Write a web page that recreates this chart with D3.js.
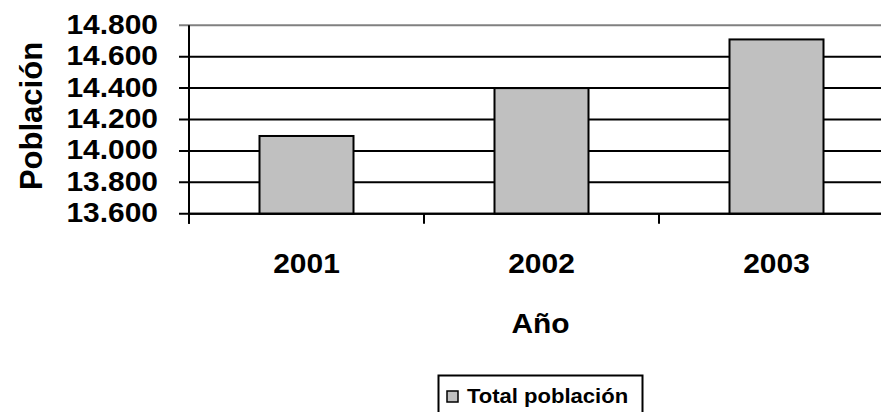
<!DOCTYPE html>
<html>
<head>
<meta charset="utf-8">
<script src="https://cdn.jsdelivr.net/npm/d3@7"></script>
<style>
  html, body { margin: 0; padding: 0; background: #fff; overflow: hidden; }
  svg { display: block; }
  text { font-family: "Liberation Sans", Arial, sans-serif; font-weight: bold; fill: #000; }
</style>
</head>
<body>
<svg id="chart" width="881" height="412"></svg>
<script>
const categories = ["2001", "2002", "2003"];
const values = [14095, 14400, 14710];
const yTicks = [13600, 13800, 14000, 14200, 14400, 14600, 14800];
const yTickLabels = ["13.600", "13.800", "14.000", "14.200", "14.400", "14.600", "14.800"];
const seriesName = "Total población";
const xTitle = "Año";
const yTitle = "Población";

const svg = d3.select("#chart");
const plotLeft = 189, plotRight = 894, plotTop = 25.3, plotBottom = 213.7;

const x = d3.scaleBand().domain(categories).range([plotLeft, plotRight]).paddingInner(0).paddingOuter(0);
const y = d3.scaleLinear().domain([13600, 14800]).range([plotBottom, plotTop]);

// gridlines
svg.append("g").selectAll("line").data(yTicks).join("line")
  .attr("x1", plotLeft - 10).attr("x2", plotRight)
  .attr("y1", d => y(d)).attr("y2", d => y(d))
  .attr("stroke", d => d === 14800 ? "#808080" : "#000")
  .attr("stroke-width", 2);

// bars
const bw = x.bandwidth() * 0.4;
svg.append("g").selectAll("rect").data(values).join("rect")
  .attr("x", (d, i) => x(categories[i]) + (x.bandwidth() - bw) / 2)
  .attr("y", d => y(d))
  .attr("width", bw)
  .attr("height", d => plotBottom - y(d))
  .attr("fill", "#C0C0C0")
  .attr("stroke", "#000")
  .attr("stroke-width", 2);

// axes lines
svg.append("line").attr("x1", plotLeft).attr("x2", plotLeft).attr("y1", plotTop).attr("y2", plotBottom + 10)
  .attr("stroke", "#000").attr("stroke-width", 2);
svg.append("line").attr("x1", plotLeft).attr("x2", plotRight).attr("y1", plotBottom).attr("y2", plotBottom)
  .attr("stroke", "#000").attr("stroke-width", 2);
// category ticks
const bounds = categories.map(c => x(c)).concat([x(categories[categories.length - 1]) + x.bandwidth()]);
svg.append("g").selectAll("line").data(bounds).join("line")
  .attr("x1", d => d).attr("x2", d => d)
  .attr("y1", plotBottom).attr("y2", plotBottom + 10)
  .attr("stroke", "#000").attr("stroke-width", 2);

// y tick labels
svg.append("g").selectAll("text").data(yTicks).join("text")
  .attr("transform", d => `translate(158,${y(d) + 8.5}) scale(1.07,1)`)
  .attr("text-anchor", "end")
  .style("font-size", "28px")
  .text((d, i) => yTickLabels[i]);

// x category labels
svg.append("g").selectAll("text").data(categories).join("text")
  .attr("transform", d => `translate(${x(d) + x.bandwidth() / 2},272.5) scale(1.07,1)`)
  .attr("text-anchor", "middle")
  .style("font-size", "28px")
  .text(d => d);

// axis titles
svg.append("text")
  .attr("transform", `translate(${(plotLeft + plotRight) / 2 - 1},333) scale(1.07,1)`)
  .attr("text-anchor", "middle")
  .style("font-size", "28px")
  .text(xTitle);

svg.append("text")
  .attr("transform", `translate(42,116) rotate(-90)`)
  .attr("text-anchor", "middle")
  .style("font-size", "31px")
  .text(yTitle);

// legend
const lg = svg.append("g");
lg.append("rect").attr("x", 438.5).attr("y", 375.5).attr("width", 204).attr("height", 50)
  .attr("fill", "#fff").attr("stroke", "#000").attr("stroke-width", 2);
lg.append("rect").attr("x", 447).attr("y", 391).attr("width", 11).attr("height", 11)
  .attr("fill", "#C0C0C0").attr("stroke", "#000").attr("stroke-width", 1.5);
lg.append("text")
  .attr("transform", "translate(467,402.5) scale(1.05,1)")
  .style("font-size", "21px")
  .text(seriesName);
</script>
</body>
</html>
